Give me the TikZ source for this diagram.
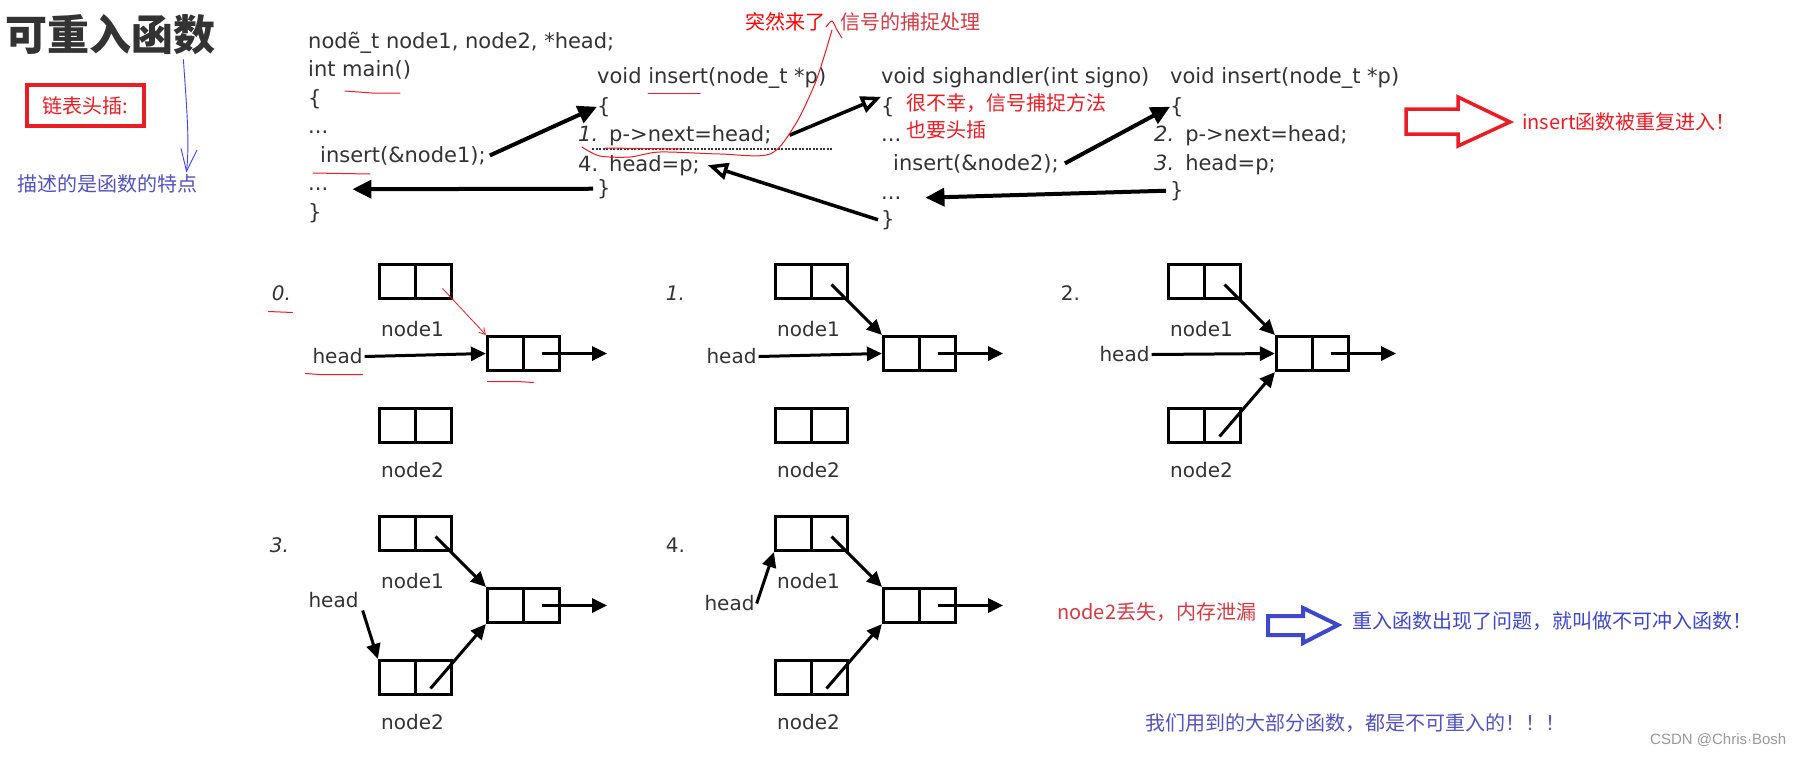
\documentclass[tikz,border=0pt]{standalone}
\usepackage{fontspec}
\setmainfont{DejaVu Sans}
\newfontfamily\cjk{Noto Sans CJK SC}
\newfontfamily\wmfont{Liberation Sans}
\usetikzlibrary{arrows.meta,positioning}

\definecolor{annred}{HTML}{EC1C24}
\definecolor{dullred}{HTML}{D43A44}
\definecolor{annblue}{HTML}{3F48CC}
\definecolor{softblue}{HTML}{5252C0}
\definecolor{codegray}{HTML}{333333}

\tikzset{
  code/.style={anchor=base west,inner sep=0pt,text=codegray,font=\fontsize{21}{25}\selectfont},
  note/.style={anchor=west,inner sep=0pt,font=\cjk\fontsize{20}{24}\selectfont},
  lbl/.style={inner sep=2pt,text=codegray,font=\fontsize{20}{24}\selectfont},
  cell/.style={draw,line width=3.2pt,minimum width=72pt,minimum height=34pt,inner sep=0pt,
    path picture={\draw[line width=3.2pt] (path picture bounding box.north) -- (path picture bounding box.south);}},
  link/.style={line width=3pt,-{Triangle[length=15pt,width=14pt]}},
  call/.style={line width=4pt,-{Triangle[length=19pt,width=18pt]}},
  sig/.style={line width=3.5pt,-{Triangle[open,length=20pt,width=17pt]}},
  scribble/.style={annred,line width=1pt,line cap=round},
}

\begin{document}
\begin{tikzpicture}[x=1pt,y=-1pt]
  \useasboundingbox[fill=white] (0,0) rectangle (1799,756);

  % title and left notes
  \node[anchor=west,inner sep=0pt,text=codegray,font=\cjk\bfseries\fontsize{42}{48}\selectfont] (title) at (5,35) {可重入函数};
  \node[draw=annred,line width=4pt,minimum width=117pt,minimum height=41pt,text=annred,
    font=\cjk\fontsize{20}{24}\selectfont] (tag) at (85.5,105.5) {链表头插:};
  \node[note,text=softblue] (desc) at (17,184) {描述的是函数的特点};
  \draw[blue!75,line width=0.9pt,-{Straight Barb[length=22pt,width=16pt]}]
    ([xshift=-32pt,yshift=-4pt]title.south east) .. controls (186,100) and (190,140) .. ([xshift=-11pt,yshift=2pt]desc.north east);

  % main()
  \node[code] (decl) at (308,48) {nodẽ\_t node1, node2, *head;};
  \node[code] (mainfn) at (308,76.5) {int main()};
  \node[code] (mainob) at (308,105) {\{};
  \node[code] (maindotsa) at (308,133.5) {...};
  \node[code] (callone) at (320,162) {insert(\&node1);};
  \node[code] (maindotsb) at (308,190.5) {...};
  \node[code] (maincb) at (308,219) {\}};

  % insert() first call
  \node[code] (insahd) at (597,83) {void insert(node\_t *p)};
  \node[code] (insaob) at (597,113) {\{};
  \node[code] (insaone) at (578,141) {{\itshape 1.}\hspace{11pt}p->next=head;};
  \node[code] (insafour) at (578,171) {4.\hspace{11pt}head=p;};
  \node[code] (insacb) at (597,195) {\}};
  \draw[line width=2.5pt,dash pattern=on 2pt off 1.5pt,codegray] (592,149) -- (832,149);

  % sighandler()
  \node[code] (sighd) at (881,83) {void sighandler(int signo)};
  \node[code] (sigob) at (881,113) {\{};
  \node[code] (sigdotsa) at (881,141) {...};
  \node[code] (calltwo) at (893,170) {insert(\&node2);};
  \node[code] (sigdotsb) at (881,199) {...};
  \node[code] (sigcb) at (881,226) {\}};

  % insert() second call
  \node[code] (insbhd) at (1170,83) {void insert(node\_t *p)};
  \node[code] (insbob) at (1170,113) {\{};
  \node[code] (insbtwo) at (1154,141) {{\itshape 2.}\hspace{11pt}p->next=head;};
  \node[code] (insbthree) at (1154,170) {{\itshape 3.}\hspace{11pt}head=p;};
  \node[code] (insbcb) at (1170,197) {\}};

  \draw[call] ([xshift=4pt]callone.east) -- (insaob.west);
  \draw[call] ([xshift=-4pt]insacb.west) -- ([xshift=24pt]maindotsb.east);
  \draw[sig] ([xshift=18pt]insaone.east) -- (sigob.north west);
  \draw[sig] ([xshift=-3pt]sigcb.west) -- ([xshift=8pt]insafour.east);
  \draw[call] ([xshift=6pt]calltwo.east) -- (insbob.west);
  \draw[call] ([xshift=-4pt]insbcb.west) -- ([xshift=24pt]sigdotsb.east);

  % red remarks on the code
  \node[note,text=red] (sudden) at (745,22) {突然来了};
  \node[note,text=dullred] (catch) at (840,22) {信号的捕捉处理};
  \node[note,text=annred] (sadly) at (906,103) {很不幸，信号捕捉方法};
  \node[note,text=annred] (alsohead) at (906,130) {也要头插};
  \draw[scribble] plot[smooth] coordinates {(582,147) (600,156) (630,157) (660,152) (720,154) (770,154) (795,125) (814,86) (823,60) (832,30)};
  \draw[scribble] plot[smooth] coordinates {(826,27) (832,21) (837,30) (842,38)};
  \draw[scribble] (605,148) -- (680,149);
  \draw[scribble] (345,91) -- (372,93) -- (400,93);
  \draw[scribble] (313,173) -- (370,174);
  \draw[scribble] (648,93) -- (700,93);

  \draw[annred,line width=3.5pt,line join=miter] (1406,109) -- (1458,109) -- (1458,97) -- (1510,122)
    -- (1458,146) -- (1458,134) -- (1406,134) -- cycle;
  \node[note,text=annred] (again) at (1522,122) {insert函数被重复进入！};

  % step 0
  \begin{scope}[shift={(415.5,281.5)}]
    \node[cell] (p0n1) at (0,0) {};
    \node[lbl] (p0ta) at (-3,48) {node1};
    \node[cell] (p0m) at (108,72) {};
    \node[cell] (p0n2) at (0,144) {};
    \node[lbl] (p0tb) at (-3,189) {node2};
    \node[lbl,font=\itshape\fontsize{20}{24}\selectfont] (p0no) at (-134,12) {0.};
    \node[lbl] (p0head) at (-78,75) {head};
    \coordinate[right=46pt of p0m] (p0nil);
    \draw[link] (p0head.east) -- (p0m.west);
    \draw[link] ([xshift=18pt]p0m.center) -- (p0nil);
    \draw[annred,line width=0.8pt,-{Straight Barb[length=6pt,width=7pt]}] ([xshift=27pt,yshift=-7pt]p0n1.center) -- (p0m.north west);
    \draw[scribble] (-147,30) -- (-123,31);
    \draw[scribble] (-110,92) -- (-96,93) -- (-53,93);
    \draw[scribble] (72,100) -- (102,100) -- (118,101);
  \end{scope}

  % step 1
  \begin{scope}[shift={(811.5,281.5)}]
    \node[cell] (p1n1) at (0,0) {};
    \node[lbl] (p1ta) at (-3,48) {node1};
    \node[cell] (p1m) at (108,72) {};
    \node[cell] (p1n2) at (0,144) {};
    \node[lbl] (p1tb) at (-3,189) {node2};
    \node[lbl,font=\itshape\fontsize{20}{24}\selectfont] (p1no) at (-136,12) {1.};
    \node[lbl] (p1head) at (-80,75) {head};
    \coordinate[right=46pt of p1m] (p1nil);
    \draw[link] (p1head.east) -- (p1m.west);
    \draw[link] ([xshift=18pt]p1m.center) -- (p1nil);
    \draw[link] ([xshift=20pt,yshift=-3pt]p1n1.center) -- (p1m.north west);
  \end{scope}

  % step 2
  \begin{scope}[shift={(1204.5,281.5)}]
    \node[cell] (p2n1) at (0,0) {};
    \node[lbl] (p2ta) at (-3,48) {node1};
    \node[cell] (p2m) at (108,72) {};
    \node[cell] (p2n2) at (0,144) {};
    \node[lbl] (p2tb) at (-3,189) {node2};
    \node[lbl] (p2no) at (-134,12) {2.};
    \node[lbl] (p2head) at (-80,73) {head};
    \coordinate[right=46pt of p2m] (p2nil);
    \draw[link] (p2head.east) -- (p2m.west);
    \draw[link] ([xshift=18pt]p2m.center) -- (p2nil);
    \draw[link] ([xshift=20pt,yshift=-3pt]p2n1.center) -- (p2m.north west);
    \draw[link] ([xshift=15pt,yshift=-11pt]p2n2.center) -- (p2m.south west);
  \end{scope}

  % step 3
  \begin{scope}[shift={(415.5,533.5)}]
    \node[cell] (p3n1) at (0,0) {};
    \node[lbl] (p3ta) at (-3,48) {node1};
    \node[cell] (p3m) at (108,72) {};
    \node[cell] (p3n2) at (0,144) {};
    \node[lbl] (p3tb) at (-3,189) {node2};
    \node[lbl,font=\itshape\fontsize{20}{24}\selectfont] (p3no) at (-136,12) {3.};
    \node[lbl] (p3head) at (-82,67) {head};
    \coordinate[right=46pt of p3m] (p3nil);
    \draw[link] ([xshift=18pt]p3m.center) -- (p3nil);
    \draw[link] ([xshift=20pt,yshift=-3pt]p3n1.center) -- (p3m.north west);
    \draw[link] ([xshift=15pt,yshift=-11pt]p3n2.center) -- (p3m.south west);
    \draw[link] ([xshift=2pt]p3head.south east) -- (p3n2.north west);
  \end{scope}

  % step 4
  \begin{scope}[shift={(811.5,533.5)}]
    \node[cell] (p4n1) at (0,0) {};
    \node[lbl] (p4ta) at (-3,48) {node1};
    \node[cell] (p4m) at (108,72) {};
    \node[cell] (p4n2) at (0,144) {};
    \node[lbl] (p4tb) at (-3,189) {node2};
    \node[lbl] (p4no) at (-136,12) {4.};
    \node[lbl] (p4head) at (-82,70) {head};
    \coordinate[right=46pt of p4m] (p4nil);
    \draw[link] ([xshift=18pt]p4m.center) -- (p4nil);
    \draw[link] ([xshift=20pt,yshift=-3pt]p4n1.center) -- (p4m.north west);
    \draw[link] ([xshift=15pt,yshift=-11pt]p4n2.center) -- (p4m.south west);
    \draw[link] (p4head.east) -- (p4n1.south west);
  \end{scope}

  % conclusions
  \node[note,text=dullred] (lost) at (1057,612) {node2丢失，内存泄漏};
  \draw[annblue,line width=4pt,line join=miter] (1268,616) -- (1303,616) -- (1303,608) -- (1338,625)
    -- (1303,643) -- (1303,635) -- (1268,635) -- cycle;
  \node[note,text=annblue] (problem) at (1352,621) {重入函数出现了问题，就叫做不可冲入函数！};
  \node[note,text=softblue] (most) at (1145,723) {我们用到的大部分函数，都是不可重入的！！！};
  \node[anchor=west,inner sep=0pt,text=black!40,font=\wmfont\fontsize{15}{18}\selectfont] (wm) at (1650,740) {CSDN @Chris·Bosh};
\end{tikzpicture}
\end{document}
